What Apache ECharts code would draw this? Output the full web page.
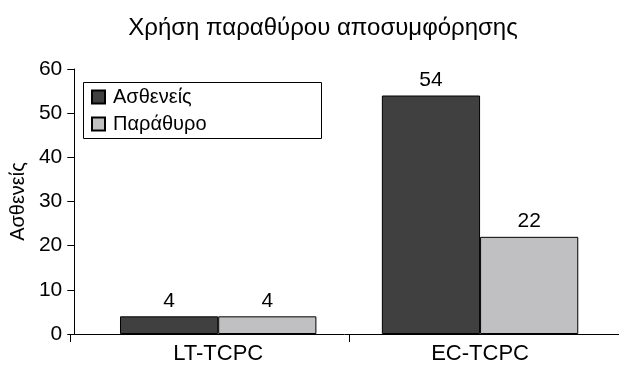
<!DOCTYPE html>
<html><head><meta charset="utf-8">
<script src="https://cdn.jsdelivr.net/npm/echarts@6/dist/echarts.min.js"></script>
<style>html,body{margin:0;padding:0;background:#fff}#c{width:619px;height:365px}</style>
</head><body><div id="c"></div>
<script>
const chartTitle = 'Χρήση παραθύρου αποσυμφόρησης';
const categories = ['LT-TCPC', 'EC-TCPC'];
const seriesNames = ['Ασθενείς', 'Παράθυρο'];
const patients = [4, 54];
const windowUse = [4, 22];
const yMin = 0, yMax = 60, yStep = 10;
const yName = 'Ασθενείς';

const FONT = '"Liberation Sans", Arial, sans-serif';
const GRID_LEFT = 83, GRID_RIGHT = 8, GRID_TOP = 69, GRID_BOTTOM = 28, Y_OFFSET = 13;

const chart = echarts.init(document.getElementById('c'), null, {renderer: 'canvas'});
const labelStyle = {show: true, position: 'top', distance: 5, fontSize: 21, color: '#000', fontFamily: FONT};
chart.setOption({
  animation: false,
  backgroundColor: '#fff',
  title: {text: chartTitle, left: 318, top: 11, textAlign: 'center',
    textStyle: {fontSize: 24, fontWeight: 'normal', color: '#000', fontFamily: FONT}},
  legend: {orient: 'vertical', left: 91, top: 87, itemWidth: 13, itemHeight: 13, itemGap: 7,
    padding: 0, icon: 'rect',
    textStyle: {fontSize: 20, color: '#000', fontFamily: FONT, padding: [0, 0, 0, 3]},
    data: seriesNames},
  grid: {left: GRID_LEFT, right: GRID_RIGHT, top: GRID_TOP, bottom: GRID_BOTTOM, containLabel: false},
  xAxis: {type: 'category', data: categories, boundaryGap: true,
    axisLine: {show: false}, axisTick: {show: false},
    axisLabel: {fontSize: 22, color: '#000', fontFamily: FONT, margin: 9}},
  yAxis: {type: 'value', min: yMin, max: yMax, interval: yStep, offset: Y_OFFSET,
    name: yName, nameLocation: 'middle', nameGap: 37, nameRotate: 90,
    nameTextStyle: {fontSize: 20, color: '#000', fontFamily: FONT},
    axisLine: {show: true, lineStyle: {color: '#000', width: 1}},
    axisTick: {show: true, length: 7, lineStyle: {color: '#000', width: 1}},
    axisLabel: {fontSize: 21, color: '#000', fontFamily: FONT, margin: 12},
    splitLine: {show: false}},
  series: [
    {name: seriesNames[0], type: 'bar', data: patients, barGap: '0%', barCategoryGap: '25%',
     itemStyle: {color: '#404040', borderColor: '#000', borderWidth: 1}, label: labelStyle},
    {name: seriesNames[1], type: 'bar', data: windowUse, barGap: '0%', barCategoryGap: '25%',
     itemStyle: {color: '#c0c0c2', borderColor: '#000', borderWidth: 1}, label: labelStyle}
  ]
});

const y0 = chart.convertToPixel({yAxisIndex: 0}, yMin);
const c0 = chart.convertToPixel({xAxisIndex: 0}, categories[0]);
const c1 = chart.convertToPixel({xAxisIndex: 0}, categories[1]);
const boundary = (c0 + c1) / 2;
const axisX = GRID_LEFT - Y_OFFSET;
const W = chart.getWidth();
const ls = {stroke: '#000', lineWidth: 1};
chart.setOption({graphic: [
  {type: 'line', shape: {x1: axisX, y1: Math.round(y0) + 0.5, x2: W, y2: Math.round(y0) + 0.5}, style: ls, z: 10},
  {type: 'line', shape: {x1: Math.round(axisX) + 0.5, y1: y0, x2: Math.round(axisX) + 0.5, y2: y0 + 8}, style: ls, z: 10},
  {type: 'line', shape: {x1: Math.round(boundary) + 0.5, y1: y0, x2: Math.round(boundary) + 0.5, y2: y0 + 8}, style: ls, z: 10},
  {type: 'rect', shape: {x: 83.5, y: 82.5, width: 238, height: 56}, style: {fill: '#fff', stroke: '#000', lineWidth: 1}, z: -1}
]});
</script></body></html>
